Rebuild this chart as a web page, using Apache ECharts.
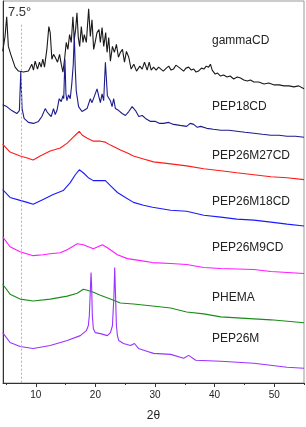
<!DOCTYPE html>
<html><head><meta charset="utf-8">
<script src="https://cdn.jsdelivr.net/npm/echarts@6/dist/echarts.min.js"></script>
<style>html,body{margin:0;padding:0;background:#fff}#c{width:306px;height:427px}</style>
</head><body><div id="c"></div>
<script>
const seriesNames = ['gammaCD','PEP18CD','PEP26M27CD','PEP26M18CD','PEP26M9CD','PHEMA','PEP26M'];
const xMajorTicks = [10,20,30,40,50];
const xMinorTicks = [5,15,25,35,45,55];
const xTickLabels = [10,20,30,40,50];
const refAngle = 7.5;

const gammaCD = [[4.45,336],[4.84,351],[5.12,371],[5.4,341],[5.8,333],[6.13,335],[6.53,320],[7.09,316],[7.93,315],[8.77,316],[9.33,323],[9.61,317],[9.89,326],[10.29,318],[10.62,325],[10.9,320],[11.18,328],[11.46,320],[11.86,338],[12.19,361],[12.42,355],[12.7,328],[12.98,333],[13.26,330],[13.65,325],[13.99,333],[14.27,323],[14.55,315],[14.83,328],[15.11,345],[15.39,338],[15.67,353],[15.95,345],[16.23,371],[16.46,348],[16.68,358],[16.91,375],[17.13,350],[17.36,341],[17.64,361],[17.92,345],[18.14,353],[18.48,345],[18.87,379],[19.15,351],[19.43,368],[19.71,338],[19.99,346],[20.27,355],[20.61,358],[20.83,345],[21.12,360],[21.4,341],[21.73,355],[21.96,335],[22.24,350],[22.52,326],[22.86,341],[23.19,335],[23.53,343],[23.87,330],[24.2,335],[24.54,338],[24.88,325],[25.21,336],[25.6,330],[26.0,318],[26.45,323],[26.9,316],[27.46,321],[27.85,318],[28.24,325],[28.69,317],[29.03,325],[29.36,317],[29.76,320],[30.2,317],[30.6,320],[31.0,318],[31.4,316],[31.9,319],[32.3,321],[32.7,317],[33.1,318],[33.5,322],[33.97,320],[34.4,318],[34.8,316],[35.2,319],[35.65,320],[36.1,317],[36.5,318],[36.9,315],[37.3,316],[37.8,319],[38.2,318],[38.6,321],[39.0,320],[39.3,323],[39.6,317],[40.1,313],[40.5,314],[41.0,311],[41.5,312],[42.1,310],[42.6,311],[43.2,308],[43.8,310],[44.35,309],[44.9,307],[45.5,306],[46.0,307],[46.6,305],[47.4,305],[48.3,303],[49.1,304],[50.0,302],[50.8,302],[51.65,301],[52.5,301],[53.3,300],[54.1,301],[55.0,298]];

const pep18CD = [[4.45,282],[5.13,280],[5.97,276],[6.81,273],[7.25,276],[7.48,315],[7.70,278],[8.04,268],[8.76,264],[9.61,263],[10.45,265],[11.02,270],[11.58,278],[11.86,275],[12.25,272],[12.59,270],[12.97,278],[13.26,272],[13.55,276],[13.93,288],[14.27,285],[14.56,291],[14.69,288],[14.89,328],[15.06,293],[15.23,286],[15.50,292],[15.78,288],[16.04,303],[16.29,323],[16.46,353],[16.63,318],[16.79,296],[17.18,280],[17.75,275],[18.02,274],[18.60,278],[19.15,288],[19.44,284],[19.71,282],[20.28,298],[20.55,291],[20.84,284],[21.12,293],[21.39,286],[21.68,325],[21.85,308],[22.01,291],[22.52,286],[22.80,280],[23.07,288],[23.36,278],[23.92,276],[24.49,273],[25.04,271],[25.60,275],[26.17,280],[26.73,276],[27.28,270],[27.86,271],[28.41,268],[29.25,265],[30.09,265],[30.8,263],[31.44,263],[32.3,264],[33.12,262],[34.2,261],[35.31,260],[35.9,263],[36.49,262],[37.1,259],[37.67,260],[38.68,258],[39.8,257],[41.04,256],[42.4,256],[43.73,255],[45.1,254],[46.59,253],[48.0,252],[49.45,251],[50.8,251],[52.15,250],[53.6,250],[55.0,249]];

const pep26M27CD = [[4.45,242],[5.68,234],[7.37,230],[8.55,228],[9.56,226],[10.73,230],[12.42,235],[14.10,238],[15.28,243],[16.12,248],[16.79,252],[17.30,255],[17.80,251],[18.65,248],[19.66,245],[20.84,245],[21.68,244],[22.52,241],[24.20,236],[25.38,233],[26.39,230],[28.07,227],[29.76,224],[32.62,222],[35.31,220],[38.18,217],[41.04,215],[43.73,213],[46.59,211],[49.45,209],[52.15,208],[55.0,206]];

const pep26M18CD = [[4.45,196],[5.68,188],[7.37,185],[8.55,183],[9.56,181],[11.24,186],[12.92,191],[14.61,195],[15.78,203],[16.63,211],[17.30,216],[17.97,213],[18.81,208],[19.66,205],[20.84,205],[21.68,205],[22.52,200],[23.70,193],[25.04,188],[26.39,183],[28.07,180],[29.59,178],[32.62,175],[35.31,174],[38.18,170],[41.04,168],[43.73,166],[46.59,165],[49.45,163],[52.15,161],[55.0,159]];

const pep26M9CD = [[4.45,148],[5.68,138],[7.37,133],[9.56,129],[11.24,130],[12.42,131],[14.10,132],[15.28,135],[16.12,138],[16.96,141],[17.97,140],[19.66,136],[21.17,140],[22.01,137],[23.70,130],[25.38,126],[27.57,124],[29.59,122],[32.62,121],[35.31,120],[38.18,117],[41.04,116],[46.59,115],[49.45,113],[55.0,111]];

const phema = [[4.45,100],[5.68,90],[7.37,85],[9.56,83],[12.42,85],[15.28,88],[16.96,91],[17.97,95],[18.65,94],[19.66,92],[20.84,89],[22.52,85],[24.20,81],[26.39,80],[29.59,78],[32.62,76],[35.31,72],[38.18,70],[41.04,67],[46.59,65],[49.45,64],[55.0,61]];

const pep26M = [[4.45,51],[5.68,41],[7.37,37],[9.56,35],[12.42,38],[15.28,43],[17.47,48],[18.48,53],[18.81,58],[18.98,68],[19.15,93],[19.27,112],[19.37,98],[19.49,68],[19.66,55],[19.99,51],[20.84,50],[22.01,48],[22.52,51],[22.86,58],[23.11,88],[23.24,117],[23.36,93],[23.53,58],[23.70,48],[23.92,43],[24.71,40],[25.89,38],[26.56,40],[27.23,35],[28.75,32],[29.76,30],[32.62,29],[34.81,25],[35.65,28],[36.83,23],[41.04,22],[46.59,20],[52.15,16],[55.0,15]];

const seriesData = [gammaCD, pep18CD, pep26M27CD, pep26M18CD, pep26M9CD, phema, pep26M];
const colors = ['#1a1a1a','#1c1c8c','#ff1a1a','#1a1aff','#ff1aff','#1a8c1a','#9933ff'];
const labelY = [41,107,156,202,248,298,339];

const chart = echarts.init(document.getElementById('c'), null, {renderer:'canvas'});
const font = '"Liberation Sans", Arial, sans-serif';
const series = seriesData.map((d,i)=>({
  name: seriesNames[i], type:'line', data:d, showSymbol:false, symbol:'none',
  lineStyle:{color:colors[i], width:1.1}, animation:false, silent:true
}));
series[0].markLine = {
  silent:true, symbol:'none', label:{show:false},
  lineStyle:{color:'#b0b0b0', type:[2,2], width:1},
  data:[[{coord:[refAngle,363]},{coord:[refAngle,0]}]]
};
const graphics = seriesNames.map((n,i)=>({
  type:'text', x:212, y:labelY[i],
  style:{text:n, fill:'#222', font:'12px '+font, verticalAlign:'middle'}
}));
graphics.push({type:'text', x:8, y:12, style:{text:refAngle+'°', fill:'#333', font:'13px '+font, verticalAlign:'middle'}});

chart.setOption({
  animation:false,
  grid:{left:3,right:2,top:1,bottom:39,show:true,borderColor:'#999',borderWidth:1},
  xAxis:[{type:'value',min:4.5,max:55,
    name:'2θ',nameLocation:'middle',nameGap:27,
    nameTextStyle:{color:'#222',fontSize:12,fontFamily:font},
    axisLine:{lineStyle:{color:'#333',width:1}},
    axisTick:{show:true,inside:false,length:4,customValues:xMajorTicks,lineStyle:{color:'#333'}},
    axisLabel:{customValues:xTickLabels,color:'#222',fontSize:10,fontFamily:font,margin:7},
    splitLine:{show:false}},
   {type:'value',min:4.5,max:55,position:'bottom',
    axisLine:{show:false},
    axisTick:{show:true,inside:false,length:2,customValues:xMinorTicks,lineStyle:{color:'#333'}},
    axisLabel:{show:false},splitLine:{show:false}}],
  yAxis:{type:'value',min:0,max:387,
    axisLine:{show:true,lineStyle:{color:'#333',width:1}},
    axisTick:{show:false},axisLabel:{show:false},splitLine:{show:false}},
  series:series,
  graphic:graphics
});
</script></body></html>
